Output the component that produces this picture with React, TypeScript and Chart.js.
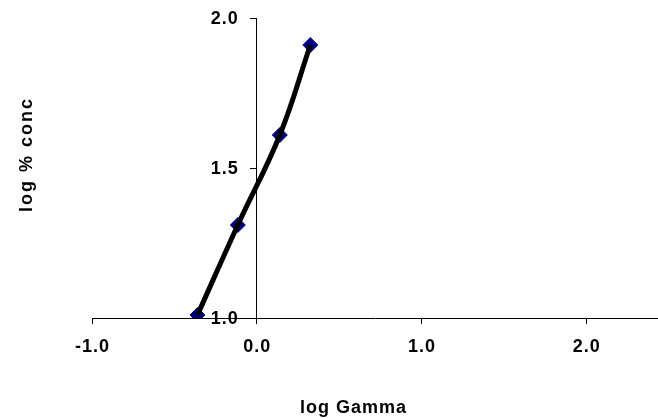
import React, { useEffect, useRef } from 'react';
import { Chart, registerables } from 'chart.js';

Chart.register(...registerables);

const logGamma = [-0.36, -0.115, 0.14, 0.325];
const logConc = [1.01, 1.31, 1.61, 1.91];
const xTickValues = [-1, 0, 1, 2];
const yTickValues = [1.0, 1.5, 2.0];
const xTitle = 'log Gamma';
const yTitle = 'log % conc';

const FONT = '"Liberation Sans", Arial, sans-serif';
const FONT_SIZE = 18;
const CAP = FONT_SIZE * 0.716;

const textPlugin = {
  id: 'texts',
  afterDraw(chart: any) {
    const ctx = chart.ctx;
    const xs = chart.scales.x;
    const ys = chart.scales.y;
    ctx.save();
    ctx.fillStyle = '#000';
    ctx.font = `bold ${FONT_SIZE}px ${FONT}`;
    (ctx as any).letterSpacing = '1px';
    ctx.textBaseline = 'alphabetic';
    // x tick labels
    ctx.textAlign = 'center';
    const xAxisY = ys.getPixelForValue(ys.min);
    xTickValues.forEach((v) => {
      ctx.fillText(v.toFixed(1), xs.getPixelForValue(v) + 0.5, xAxisY + 34);
    });
    // y tick labels
    ctx.textAlign = 'right';
    const yAxisX = xs.getPixelForValue(0);
    yTickValues.forEach((v) => {
      ctx.fillText(v.toFixed(1), yAxisX - 18, ys.getPixelForValue(v) + CAP / 2);
    });
    // titles
    ctx.textAlign = 'left';
    ctx.fillText(xTitle, 300, 413);
    (ctx as any).letterSpacing = '2px';
    ctx.translate(32, 212);
    ctx.rotate(-Math.PI / 2);
    ctx.fillText(yTitle, 0, 0);
    ctx.restore();
  },
};

export default function App() {
  const ref = useRef<HTMLCanvasElement>(null);
  useEffect(() => {
    document.body.style.margin = '0';
    const points = logGamma.map((x, i) => ({ x, y: logConc[i] }));
    const chart = new Chart(ref.current!, {
      type: 'scatter',
      data: {
        datasets: [
          {
            data: points,
            showLine: true,
            borderColor: '#000',
            borderWidth: 5,
            pointRadius: 0,
            tension: 0.4,
            order: 0,
          },
          {
            data: points,
            showLine: false,
            pointStyle: 'rectRot',
            pointRadius: 7.5,
            backgroundColor: '#000080',
            borderColor: '#000080',
            borderWidth: 1,
            order: 1,
          },
        ],
      },
      options: {
        responsive: false,
        animation: false,
        layout: { autoPadding: false, padding: { left: 92, right: 0, top: 18, bottom: 0 } },
        plugins: { legend: { display: false }, tooltip: { enabled: false } },
        scales: {
          x: {
            type: 'linear',
            position: 'bottom',
            min: -1,
            max: 2.435,
            afterBuildTicks: (s: any) => {
              s.ticks = xTickValues.map((v) => ({ value: v }));
            },
            afterFit: (s: any) => {
              s.height = 100;
              s.paddingLeft = 0;
              s.paddingRight = 0;
            },
            border: { display: true, color: '#000', width: 1 },
            grid: { display: true, drawOnChartArea: false, drawTicks: true, tickLength: 6, color: '#000' },
            ticks: { display: false },
          },
          y: {
            type: 'linear',
            position: { x: 0 } as any,
            min: 1,
            max: 2,
            afterBuildTicks: (s: any) => {
              s.ticks = yTickValues.map((v) => ({ value: v }));
            },
            border: { display: true, color: '#000', width: 1 },
            grid: { display: true, drawOnChartArea: false, drawTicks: true, tickLength: 6, color: '#000' },
            ticks: { display: false },
          },
        },
      },
      plugins: [textPlugin],
    });
    return () => chart.destroy();
  }, []);
  return <canvas ref={ref} width={658} height={418} style={{ display: 'block' }} />;
}
